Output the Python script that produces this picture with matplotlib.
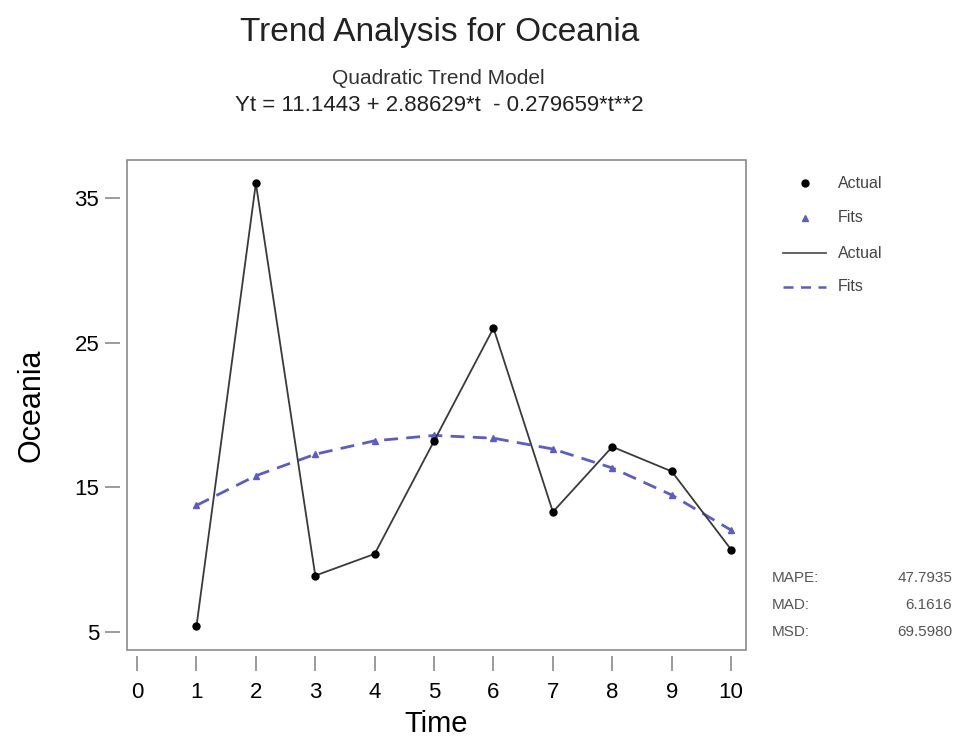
import matplotlib.pyplot as plt
from matplotlib.patches import Rectangle
import numpy as np

plt.rcParams['font.family'] = ['Liberation Sans', 'DejaVu Sans']

t = [1, 2, 3, 4, 5, 6, 7, 8, 9, 10]
actual = [5.4, 36.0, 8.9, 10.4, 18.2, 26.0, 13.3, 17.8, 16.1, 10.7]
fits = [13.7509, 15.7983, 17.2862, 18.2149, 18.5843, 18.3943, 17.6450, 16.3364, 14.4685, 12.0413]
x_ticks = [0, 1, 2, 3, 4, 5, 6, 7, 8, 9, 10]
y_ticks = [5, 15, 25, 35]
acc_names = ['MAPE:', 'MAD:', 'MSD:']
acc_values = ['47.7935', '6.1616', '69.5980']

fit_color = '#5c5cc8'
frame_color = '#8a8a8a'

fig = plt.figure(figsize=(9.56, 7.45), dpi=100)
ax = fig.add_axes([0.1328, 0.1275, 0.6475, 0.6575])

ax.plot(t, actual, color='#3a3a3a', lw=1.3, zorder=3)
ax.plot(t, actual, 'o', color='black', ms=5, zorder=4)
ax.plot(t, fits, '--', color=fit_color, lw=2, dashes=(5, 3), zorder=2)
ax.plot(t, fits, '^', color=fit_color, ms=5, zorder=2)

ax.set_xlim(-0.17, 10.25)
ax.set_ylim(3.76, 37.6)
ax.set_xticks(x_ticks)
ax.set_yticks(y_ticks)

# frame box, with the tick axes pushed out a little (Minitab look)
for s in ax.spines.values():
    s.set_visible(False)
ax.spines['bottom'].set_position(('outward', 4))
ax.spines['left'].set_position(('outward', 5))
ax.add_patch(Rectangle((0, 0), 1, 1, transform=ax.transAxes, fill=False,
                       edgecolor=frame_color, lw=1.2, clip_on=False, zorder=5))
ax.tick_params(axis='both', direction='out', length=11, width=1.2, color=frame_color,
               labelsize=16, pad=4)
ax.tick_params(axis='x', pad=8)
ax.set_xlabel('Time', fontsize=21, labelpad=5)
ax.set_ylabel('Oceania', fontsize=22, labelpad=20)

fig.text(0.46, 0.957, 'Trend Analysis for Oceania', ha='center', va='center', fontsize=24,
         color='#222222')
fig.text(0.458, 0.894, 'Quadratic Trend Model', ha='center', va='center', fontsize=15,
         color='#333333')
fig.text(0.46, 0.858, 'Yt = 11.1443 + 2.88629*t  - 0.279659*t**2', ha='center', va='center',
         fontsize=16, color='#222222')

# legend drawn at right
lx = 805 / 956
tx = 838 / 956
rows = [183, 218, 253, 287]
labels = ['Actual', 'Fits', 'Actual', 'Fits']
for r, lab in zip(rows, labels):
    fig.text(tx, 1 - r / 745, lab, ha='left', va='center', fontsize=11.5, color='#444444')
fig.lines.append(plt.Line2D([lx], [1 - rows[0] / 745], marker='o', color='black', ms=5,
                            transform=fig.transFigure))
fig.lines.append(plt.Line2D([lx], [1 - rows[1] / 745], marker='^', color=fit_color, ms=5,
                            transform=fig.transFigure))
fig.lines.append(plt.Line2D([783 / 956, 826 / 956], [1 - rows[2] / 745] * 2, color='#555555',
                            lw=1.3, transform=fig.transFigure))
fig.lines.append(plt.Line2D([783 / 956, 826 / 956], [1 - rows[3] / 745] * 2, color=fit_color,
                            lw=1.8, ls='--', dashes=(4, 3), transform=fig.transFigure))

for i, (n, v) in enumerate(zip(acc_names, acc_values)):
    y = 1 - (578 + 27 * i) / 745
    fig.text(772 / 956, y, n, ha='left', va='center', fontsize=11, color='#555555')
    fig.text(952 / 956, y, v, ha='right', va='center', fontsize=11, color='#555555')

fig.savefig('out.png', dpi=100)
